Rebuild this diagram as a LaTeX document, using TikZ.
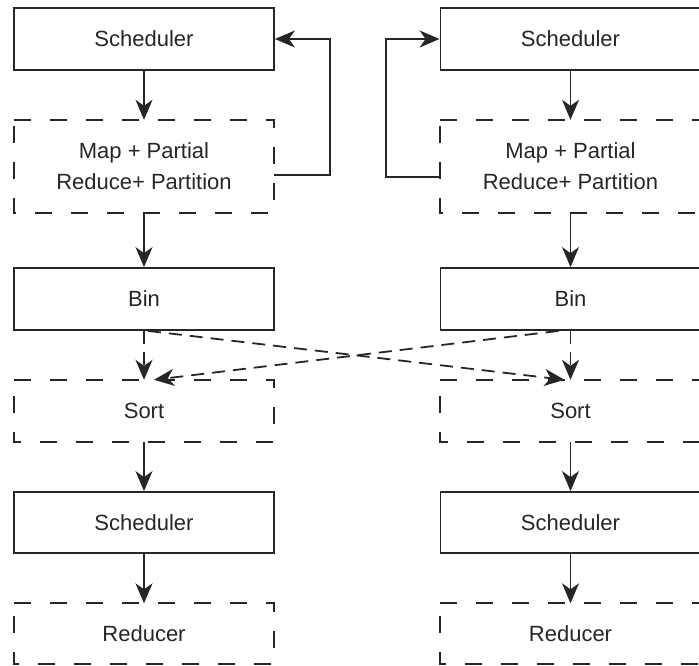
\documentclass[tikz,border=0pt]{standalone}
\usepackage{fontspec}
\setmainfont{Liberation Sans}
\usetikzlibrary{arrows.meta,calc}
\begin{document}
\begin{tikzpicture}[x=1pt,y=-1pt,
  box/.style={minimum width=260pt, minimum height=62pt, inner sep=0pt, align=center,
    font=\fontsize{22}{31}\selectfont, text=black!85},
  solidbox/.style={box, draw=black!85, line width=1.8pt, fill=white},
  dashbox/.style={box},
  dashedge/.style={draw=black!85, line width=1.8pt, dash pattern=on 17pt off 19pt},
  flow/.style={draw=black!85, line width=1.8pt,
    -{Stealth[length=20pt,width=17pt,inset=6pt]}},
  dflow/.style={flow, dash pattern=on 13pt off 8pt}]
\useasboundingbox (0,0) rectangle (699,666);
\clip (0,0) rectangle (699,666);

% left pipeline
\node[solidbox] (schedA) at (144,39) {Scheduler};
\node[dashbox, minimum height=93pt] (mapA) at (144,166.5) {Map + Partial\\Reduce+ Partition};
\node[solidbox] (binA) at (144,299) {Bin};
\node[dashbox] (sortA) at (144,411) {Sort};
\node[solidbox, minimum height=61pt] (schedB) at (144,522.5) {Scheduler};
\node[dashbox, minimum height=60pt] (redA) at (144,633.5) {Reducer};

% right pipeline
\node[solidbox] (schedC) at (570.5,39) {Scheduler};
\node[dashbox, minimum height=93pt] (mapB) at (570.5,166.5) {Map + Partial\\Reduce+ Partition};
\node[solidbox] (binB) at (570.5,299) {Bin};
\node[dashbox] (sortB) at (570.5,411) {Sort};
\node[solidbox, minimum height=61pt] (schedD) at (570.5,522.5) {Scheduler};
\node[dashbox, minimum height=60pt] (redB) at (570.5,633.5) {Reducer};

% dashed outlines of the processing stages
\foreach \n in {mapA,sortA,redA,mapB,sortB,redB}{
  \draw[dashedge] (\n.north west) -- (\n.north east) -- (\n.south east)
    -- (\n.south west) -- cycle;
}

% main flow
\draw[flow] (schedA) -- (mapA);
\draw[flow] (mapA) -- (binA);
\draw[dflow] (binA) -- (sortA);
\draw[flow] (sortA) -- (schedB);
\draw[flow] (schedB) -- (redA);

\draw[flow] (schedC) -- (mapB);
\draw[flow] (mapB) -- (binB);
\draw[dflow] (binB) -- (sortB);
\draw[flow] (sortB) -- (schedD);
\draw[flow] (schedD) -- (redB);

% shuffle between the two pipelines
\draw[dflow] ($(binA.south)+(4,0)$) -- ($(sortB.north)+(-6,0)$);
\draw[dflow] ($(binB.south)+(-12,0)$) -- ($(sortA.north)+(10,0)$);

% feedback loops to the schedulers
\coordinate (loopL) at (330,39);
\coordinate (loopR) at (386,39);
\draw[flow] ($(mapA.east)+(0,8.5)$) -| (loopL) -- (schedA.east);
\draw[flow] ($(mapB.west)+(0,10.5)$) -| (loopR) -- (schedC.west);
\end{tikzpicture}
\end{document}
